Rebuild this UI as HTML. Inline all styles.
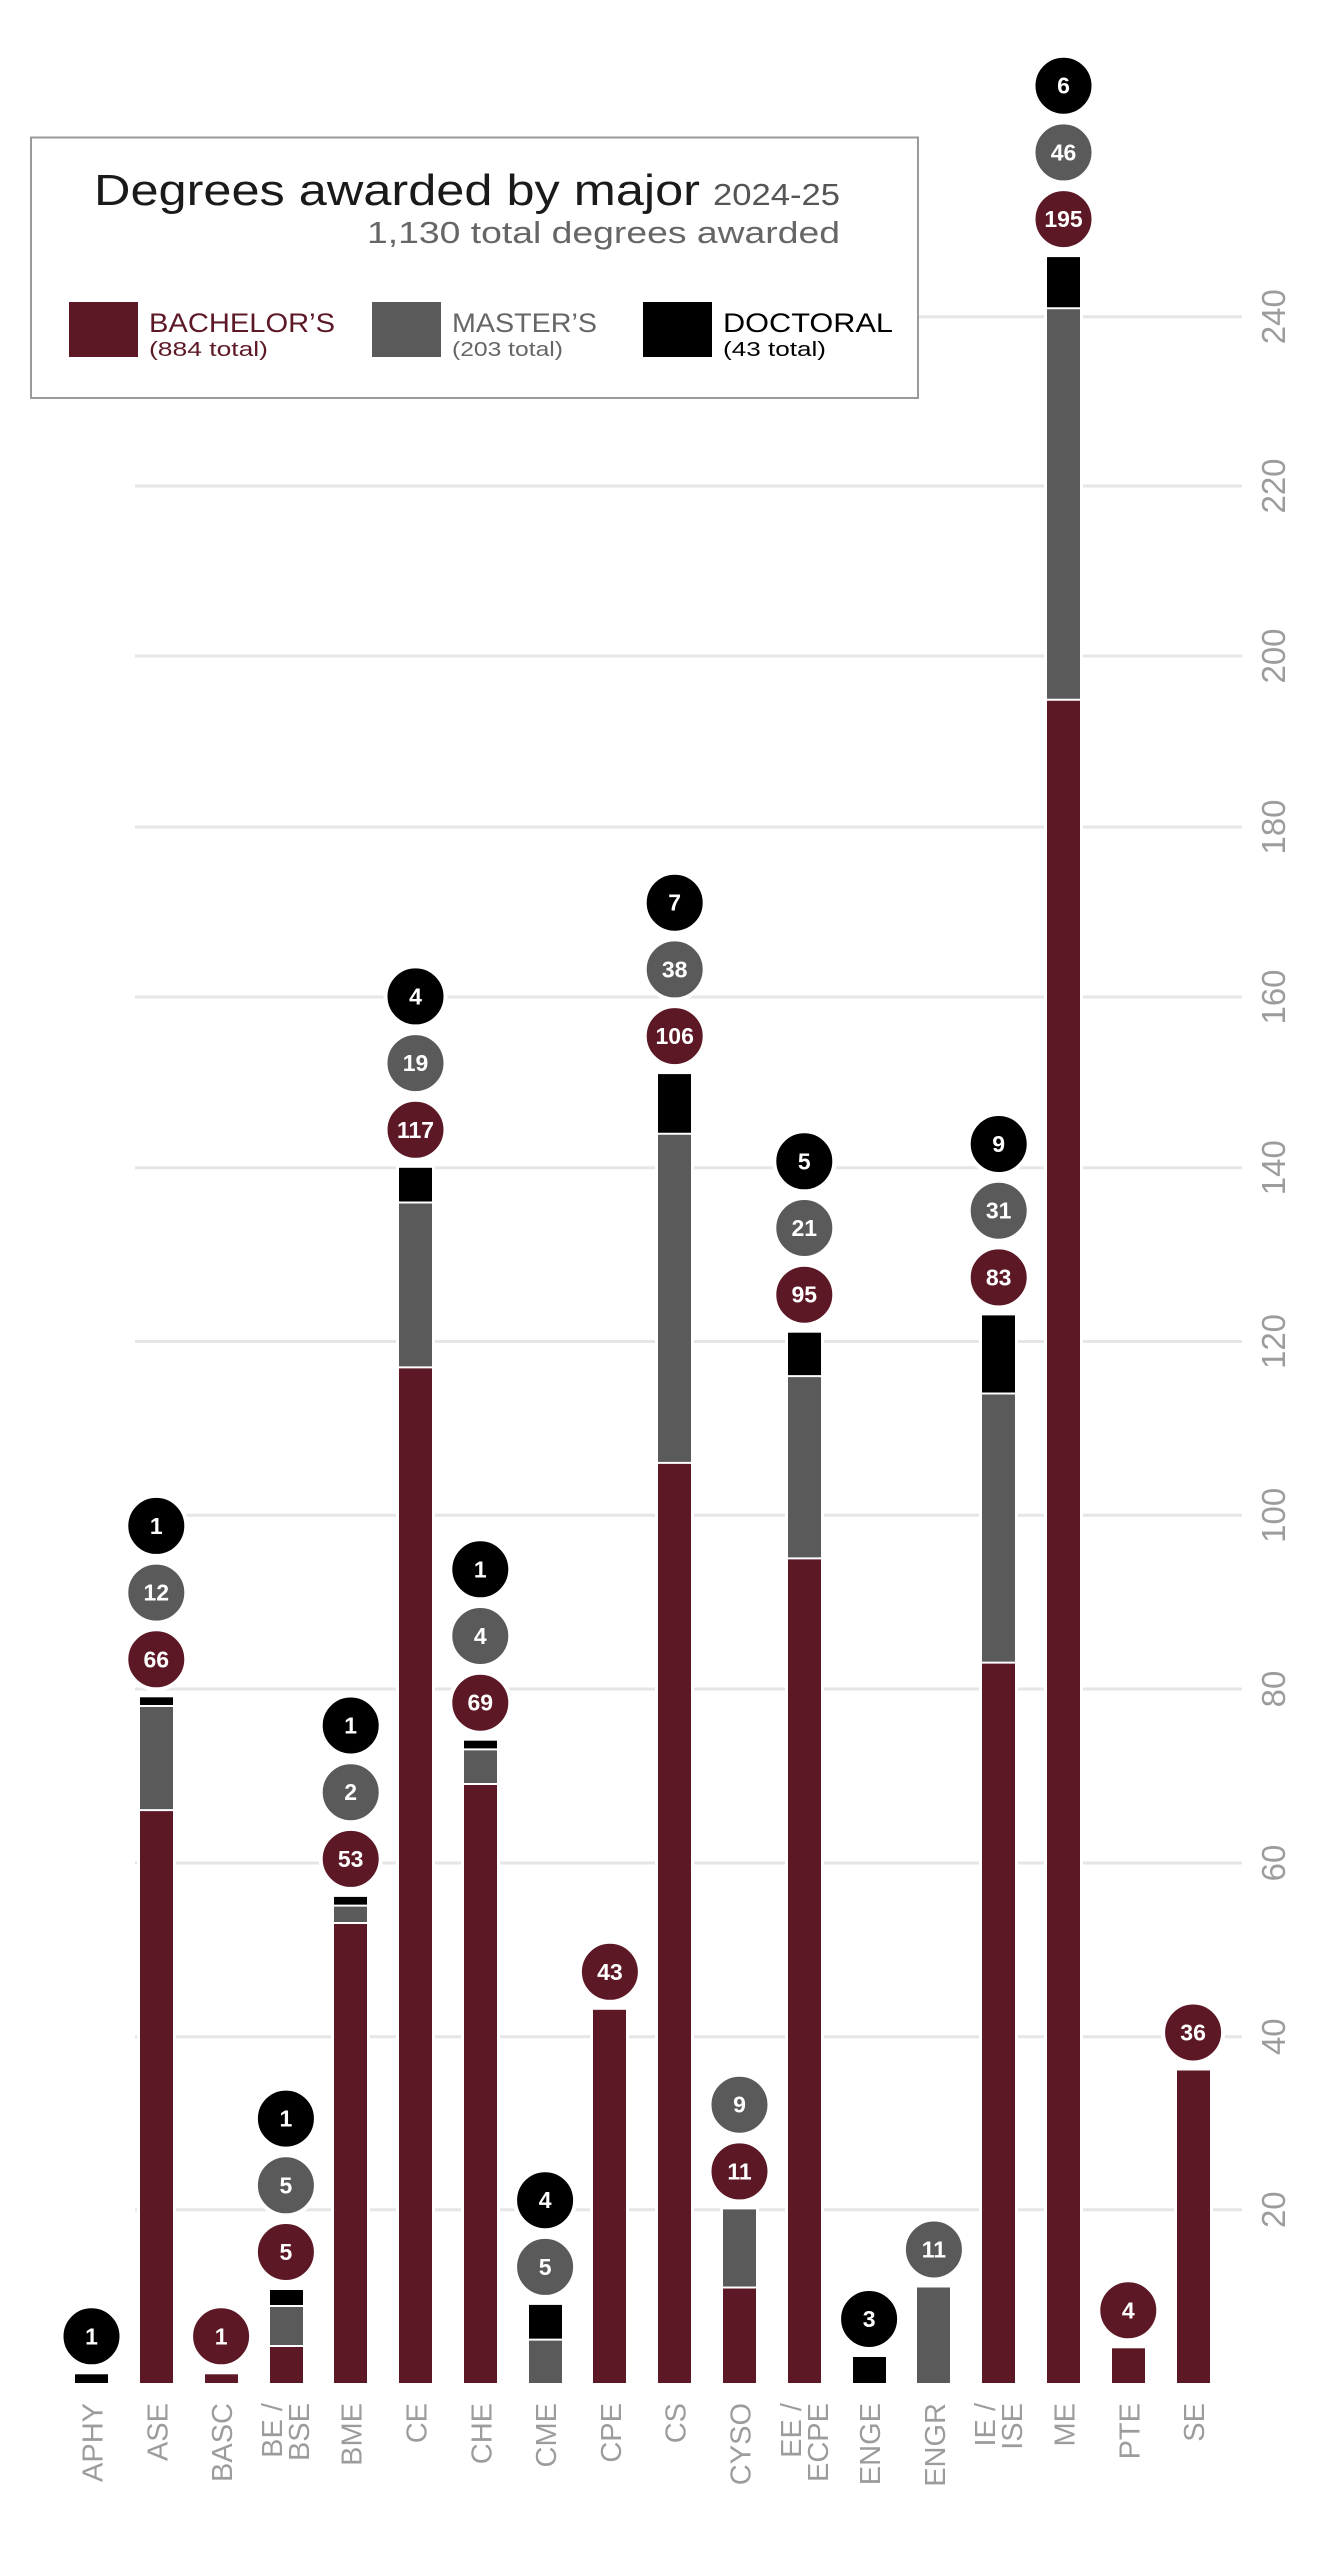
<!DOCTYPE html>
<html><head><meta charset="utf-8"><style>
html,body{margin:0;padding:0;background:#fff;}
svg{display:block;}
text{font-family:"Liberation Sans","DejaVu Sans",sans-serif;}
.tk{font-size:33px;fill:#9c9c9c;}
.xl{font-size:29px;fill:#9c9c9c;}
.cn{font-size:23px;font-weight:bold;fill:#fff;text-anchor:middle;}
</style></head><body>
<svg width="1335" height="2560" viewBox="0 0 1335 2560" xmlns="http://www.w3.org/2000/svg">
<rect width="1335" height="2560" fill="#fff"/>
<g stroke="#e6e6e6" stroke-width="3">
<line x1="135" x2="1242" y1="316.7" y2="316.7"/>
<line x1="135" x2="1242" y1="486" y2="486"/>
<line x1="135" x2="1242" y1="656" y2="656"/>
<line x1="135" x2="1242" y1="827" y2="827"/>
<line x1="135" x2="1242" y1="997" y2="997"/>
<line x1="135" x2="1242" y1="1167.7" y2="1167.7"/>
<line x1="135" x2="1242" y1="1341.5" y2="1341.5"/>
<line x1="135" x2="1242" y1="1515.3" y2="1515.3"/>
<line x1="135" x2="1242" y1="1689" y2="1689"/>
<line x1="135" x2="1242" y1="1863" y2="1863"/>
<line x1="135" x2="1242" y1="2036.7" y2="2036.7"/>
<line x1="135" x2="1242" y1="2209.7" y2="2209.7"/>
</g>
<g class="tk" text-anchor="middle">
<text transform="translate(1285,316.7) rotate(-90)">240</text>
<text transform="translate(1285,486) rotate(-90)">220</text>
<text transform="translate(1285,656) rotate(-90)">200</text>
<text transform="translate(1285,827) rotate(-90)">180</text>
<text transform="translate(1285,997) rotate(-90)">160</text>
<text transform="translate(1285,1167.7) rotate(-90)">140</text>
<text transform="translate(1285,1341.5) rotate(-90)">120</text>
<text transform="translate(1285,1515.3) rotate(-90)">100</text>
<text transform="translate(1285,1689) rotate(-90)">80</text>
<text transform="translate(1285,1863) rotate(-90)">60</text>
<text transform="translate(1285,2036.7) rotate(-90)">40</text>
<text transform="translate(1285,2209.7) rotate(-90)">20</text>
</g>

<g fill="#fff">
<rect x="72" y="2371" width="39" height="15"/>
<rect x="137" y="1694" width="39" height="692"/>
<rect x="202" y="2371" width="39" height="15"/>
<rect x="267" y="2287" width="39" height="99"/>
<rect x="331" y="1894" width="39" height="492"/>
<rect x="396" y="1165" width="39" height="1221"/>
<rect x="461" y="1738" width="39" height="648"/>
<rect x="526" y="2302" width="39" height="84"/>
<rect x="590" y="2007" width="39" height="379"/>
<rect x="655" y="1071" width="39" height="1315"/>
<rect x="720" y="2206" width="39" height="180"/>
<rect x="785" y="1330" width="39" height="1056"/>
<rect x="850" y="2354" width="39" height="32"/>
<rect x="914" y="2285" width="39" height="101"/>
<rect x="979" y="1312" width="39" height="1074"/>
<rect x="1044" y="254" width="39" height="2132"/>
<rect x="1109" y="2345" width="39" height="41"/>
<rect x="1174" y="2068" width="39" height="318"/>
</g>

<g>
<rect x="75" y="2374.3" width="33" height="8.7" fill="#000"/>
<rect x="140" y="1810.1" width="33" height="572.9" fill="#5d1826"/>
<rect x="140" y="1706" width="33" height="104.1" fill="#5a5a5a"/>
<rect x="140" y="1697.3" width="33" height="8.7" fill="#000"/>
<rect x="205" y="2374.3" width="33" height="8.7" fill="#5d1826"/>
<rect x="270" y="2346" width="33" height="37" fill="#5d1826"/>
<rect x="270" y="2306" width="33" height="40" fill="#5a5a5a"/>
<rect x="270" y="2290" width="33" height="16" fill="#000"/>
<rect x="334" y="1923" width="33" height="460" fill="#5d1826"/>
<rect x="334" y="1905.6" width="33" height="17.4" fill="#5a5a5a"/>
<rect x="334" y="1896.9" width="33" height="8.7" fill="#000"/>
<rect x="399" y="1367.4" width="33" height="1015.6" fill="#5d1826"/>
<rect x="399" y="1202.5" width="33" height="164.9" fill="#5a5a5a"/>
<rect x="399" y="1167.8" width="33" height="34.7" fill="#000"/>
<rect x="464" y="1784" width="33" height="599" fill="#5d1826"/>
<rect x="464" y="1749.4" width="33" height="34.6" fill="#5a5a5a"/>
<rect x="464" y="1740.7" width="33" height="8.7" fill="#000"/>
<rect x="529" y="2339.6" width="33" height="43.4" fill="#5a5a5a"/>
<rect x="529" y="2304.9" width="33" height="34.7" fill="#000"/>
<rect x="593" y="2009.8" width="33" height="373.2" fill="#5d1826"/>
<rect x="658" y="1462.9" width="33" height="920.1" fill="#5d1826"/>
<rect x="658" y="1133.7" width="33" height="329.2" fill="#5a5a5a"/>
<rect x="658" y="1074.1" width="33" height="59.6" fill="#000"/>
<rect x="723" y="2287.5" width="33" height="95.5" fill="#5d1826"/>
<rect x="723" y="2209.4" width="33" height="78.1" fill="#5a5a5a"/>
<rect x="788" y="1558.4" width="33" height="824.6" fill="#5d1826"/>
<rect x="788" y="1376.1" width="33" height="182.3" fill="#5a5a5a"/>
<rect x="788" y="1332.7" width="33" height="43.4" fill="#000"/>
<rect x="853" y="2357" width="33" height="26" fill="#000"/>
<rect x="917" y="2287.5" width="33" height="95.5" fill="#5a5a5a"/>
<rect x="982" y="1662.6" width="33" height="720.4" fill="#5d1826"/>
<rect x="982" y="1393.5" width="33" height="269.1" fill="#5a5a5a"/>
<rect x="982" y="1315.4" width="33" height="78.1" fill="#000"/>
<rect x="1047" y="699.7" width="33" height="1683.3" fill="#5d1826"/>
<rect x="1047" y="308.2" width="33" height="391.5" fill="#5a5a5a"/>
<rect x="1047" y="257.1" width="33" height="51.1" fill="#000"/>
<rect x="1112" y="2348.3" width="33" height="34.7" fill="#5d1826"/>
<rect x="1177" y="2070.5" width="33" height="312.5" fill="#5d1826"/>
</g>
<g stroke="#fff" stroke-width="2">
<line x1="140" x2="173" y1="1810.1" y2="1810.1"/><line x1="140" x2="173" y1="1706" y2="1706"/>
<line x1="270" x2="303" y1="2346" y2="2346"/><line x1="270" x2="303" y1="2306" y2="2306"/>
<line x1="334" x2="367" y1="1923" y2="1923"/><line x1="334" x2="367" y1="1905.6" y2="1905.6"/>
<line x1="399" x2="432" y1="1367.4" y2="1367.4"/><line x1="399" x2="432" y1="1202.5" y2="1202.5"/>
<line x1="464" x2="497" y1="1784" y2="1784"/><line x1="464" x2="497" y1="1749.4" y2="1749.4"/>
<line x1="529" x2="562" y1="2339.6" y2="2339.6"/>
<line x1="658" x2="691" y1="1462.9" y2="1462.9"/><line x1="658" x2="691" y1="1133.7" y2="1133.7"/>
<line x1="723" x2="756" y1="2287.5" y2="2287.5"/>
<line x1="788" x2="821" y1="1558.4" y2="1558.4"/><line x1="788" x2="821" y1="1376.1" y2="1376.1"/>
<line x1="982" x2="1015" y1="1662.6" y2="1662.6"/><line x1="982" x2="1015" y1="1393.5" y2="1393.5"/>
<line x1="1047" x2="1080" y1="699.7" y2="699.7"/><line x1="1047" x2="1080" y1="308.2" y2="308.2"/>
</g>

<g stroke="#fff" stroke-width="4">
<circle cx="91.5" cy="2336.3" r="30" fill="#000"/>
<circle cx="156.3" cy="1659.3" r="30" fill="#5d1826"/><circle cx="156.3" cy="1592.6" r="30" fill="#5a5a5a"/><circle cx="156.3" cy="1525.9" r="30" fill="#000"/>
<circle cx="221.1" cy="2336.3" r="30" fill="#5d1826"/>
<circle cx="285.9" cy="2252" r="30" fill="#5d1826"/><circle cx="285.9" cy="2185.3" r="30" fill="#5a5a5a"/><circle cx="285.9" cy="2118.6" r="30" fill="#000"/>
<circle cx="350.7" cy="1858.9" r="30" fill="#5d1826"/><circle cx="350.7" cy="1792.2" r="30" fill="#5a5a5a"/><circle cx="350.7" cy="1725.5" r="30" fill="#000"/>
<circle cx="415.5" cy="1129.8" r="30" fill="#5d1826"/><circle cx="415.5" cy="1063.1" r="30" fill="#5a5a5a"/><circle cx="415.5" cy="996.4" r="30" fill="#000"/>
<circle cx="480.3" cy="1702.7" r="30" fill="#5d1826"/><circle cx="480.3" cy="1636" r="30" fill="#5a5a5a"/><circle cx="480.3" cy="1569.3" r="30" fill="#000"/>
<circle cx="545.1" cy="2266.9" r="30" fill="#5a5a5a"/><circle cx="545.1" cy="2200.2" r="30" fill="#000"/>
<circle cx="609.9" cy="1971.8" r="30" fill="#5d1826"/>
<circle cx="674.7" cy="1036.1" r="30" fill="#5d1826"/><circle cx="674.7" cy="969.4" r="30" fill="#5a5a5a"/><circle cx="674.7" cy="902.7" r="30" fill="#000"/>
<circle cx="739.5" cy="2171.4" r="30" fill="#5d1826"/><circle cx="739.5" cy="2104.7" r="30" fill="#5a5a5a"/>
<circle cx="804.3" cy="1294.7" r="30" fill="#5d1826"/><circle cx="804.3" cy="1228" r="30" fill="#5a5a5a"/><circle cx="804.3" cy="1161.3" r="30" fill="#000"/>
<circle cx="869.1" cy="2319" r="30" fill="#000"/>
<circle cx="933.9" cy="2249.5" r="30" fill="#5a5a5a"/>
<circle cx="998.7" cy="1277.4" r="30" fill="#5d1826"/><circle cx="998.7" cy="1210.7" r="30" fill="#5a5a5a"/><circle cx="998.7" cy="1144" r="30" fill="#000"/>
<circle cx="1063.5" cy="219.1" r="30" fill="#5d1826"/><circle cx="1063.5" cy="152.4" r="30" fill="#5a5a5a"/><circle cx="1063.5" cy="85.7" r="30" fill="#000"/>
<circle cx="1128.3" cy="2310.3" r="30" fill="#5d1826"/>
<circle cx="1193.1" cy="2032.5" r="30" fill="#5d1826"/>
</g>
<g class="cn">
<text x="91.5" y="2344.3">1</text>
<text x="156.3" y="1667.3">66</text><text x="156.3" y="1600.6">12</text><text x="156.3" y="1533.9">1</text>
<text x="221.1" y="2344.3">1</text>
<text x="285.9" y="2260">5</text><text x="285.9" y="2193.3">5</text><text x="285.9" y="2126.6">1</text>
<text x="350.7" y="1866.9">53</text><text x="350.7" y="1800.2">2</text><text x="350.7" y="1733.5">1</text>
<text x="415.5" y="1137.8">117</text><text x="415.5" y="1071.1">19</text><text x="415.5" y="1004.4">4</text>
<text x="480.3" y="1710.7">69</text><text x="480.3" y="1644">4</text><text x="480.3" y="1577.3">1</text>
<text x="545.1" y="2274.9">5</text><text x="545.1" y="2208.2">4</text>
<text x="609.9" y="1979.8">43</text>
<text x="674.7" y="1044.1">106</text><text x="674.7" y="977.4">38</text><text x="674.7" y="910.7">7</text>
<text x="739.5" y="2179.4">11</text><text x="739.5" y="2112.7">9</text>
<text x="804.3" y="1302.7">95</text><text x="804.3" y="1236">21</text><text x="804.3" y="1169.3">5</text>
<text x="869.1" y="2327">3</text>
<text x="933.9" y="2257.5">11</text>
<text x="998.7" y="1285.4">83</text><text x="998.7" y="1218.7">31</text><text x="998.7" y="1152">9</text>
<text x="1063.5" y="227.1">195</text><text x="1063.5" y="160.4">46</text><text x="1063.5" y="93.7">6</text>
<text x="1128.3" y="2318.3">4</text>
<text x="1193.1" y="2040.5">36</text>
</g>

<g class="xl" text-anchor="end">
<text transform="translate(102.5,2403) rotate(-90)">APHY</text>
<text transform="translate(167.3,2403) rotate(-90)">ASE</text>
<text transform="translate(232.1,2403) rotate(-90)">BASC</text>
<text transform="translate(282,2403) rotate(-90)">BE /</text>
<text transform="translate(309,2403) rotate(-90)">BSE</text>
<text transform="translate(361.7,2403) rotate(-90)">BME</text>
<text transform="translate(426.5,2403) rotate(-90)">CE</text>
<text transform="translate(491.3,2403) rotate(-90)">CHE</text>
<text transform="translate(556.1,2403) rotate(-90)">CME</text>
<text transform="translate(620.9,2403) rotate(-90)">CPE</text>
<text transform="translate(685.7,2403) rotate(-90)">CS</text>
<text transform="translate(750.5,2403) rotate(-90)">CYSO</text>
<text transform="translate(801,2403) rotate(-90)">EE /</text>
<text transform="translate(828,2403) rotate(-90)">ECPE</text>
<text transform="translate(880.1,2403) rotate(-90)">ENGE</text>
<text transform="translate(944.9,2403) rotate(-90)">ENGR</text>
<text transform="translate(995,2403) rotate(-90)">IE /</text>
<text transform="translate(1022,2403) rotate(-90)">ISE</text>
<text transform="translate(1074.5,2403) rotate(-90)">ME</text>
<text transform="translate(1139.3,2403) rotate(-90)">PTE</text>
<text transform="translate(1204.1,2403) rotate(-90)">SE</text>
</g>

<rect x="31" y="137.5" width="887" height="260.5" fill="#fff" stroke="#9a9a9a" stroke-width="2"/>
<text x="94" y="205" font-size="44" fill="#1a1a1a" textLength="606" lengthAdjust="spacingAndGlyphs">Degrees awarded by major</text>
<text x="713" y="205" font-size="31" fill="#555" textLength="127" lengthAdjust="spacingAndGlyphs">2024-25</text>
<text x="367" y="243" font-size="31" fill="#666" textLength="473" lengthAdjust="spacingAndGlyphs">1,130 total degrees awarded</text>
<rect x="69" y="302" width="69" height="55" fill="#5d1826"/>
<text x="149" y="332" font-size="27" fill="#5d1826" textLength="186" lengthAdjust="spacingAndGlyphs">BACHELOR’S</text>
<text x="149" y="356" font-size="20" fill="#5d1826" textLength="119" lengthAdjust="spacingAndGlyphs">(884 total)</text>
<rect x="372" y="302" width="69" height="55" fill="#5a5a5a"/>
<text x="452" y="332" font-size="27" fill="#666" textLength="145" lengthAdjust="spacingAndGlyphs">MASTER’S</text>
<text x="452" y="356" font-size="20" fill="#666" textLength="111" lengthAdjust="spacingAndGlyphs">(203 total)</text>
<rect x="643" y="302" width="69" height="55" fill="#000"/>
<text x="723" y="332" font-size="27" fill="#000" textLength="170" lengthAdjust="spacingAndGlyphs">DOCTORAL</text>
<text x="723" y="356" font-size="20" fill="#000" textLength="103" lengthAdjust="spacingAndGlyphs">(43 total)</text>
</svg>
</body></html>
